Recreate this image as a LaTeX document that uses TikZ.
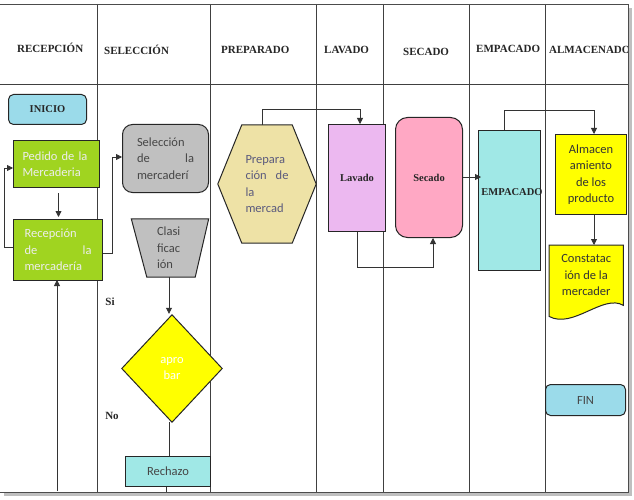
\documentclass[tikz,border=0pt]{standalone}
\usepackage{fontspec}
\setmainfont{Liberation Serif}
\newfontfamily\calfont{Carlito}
\usetikzlibrary{arrows.meta}
\pgfdeclarelayer{back}
\pgfdeclarelayer{bg}
\pgfsetlayers{back,bg,main}
\definecolor{cblue}{RGB}{155,219,234}
\definecolor{cgreen}{RGB}{160,212,32}
\definecolor{cgray}{RGB}{192,192,192}
\definecolor{cyel}{RGB}{255,255,0}
\definecolor{ccyan}{RGB}{160,232,230}
\definecolor{cviolet}{RGB}{236,184,240}
\definecolor{cpink}{RGB}{255,168,196}
\definecolor{ckhaki}{RGB}{238,226,166}
\definecolor{tgray}{RGB}{70,70,70}
\definecolor{tblue}{RGB}{90,90,125}
\begin{document}
\begin{tikzpicture}[x=1pt,y=-1pt,
  gridline/.style={draw=black!75, line width=0.7pt},
  hdr/.style={font=\fontsize{11}{13}\selectfont\bfseries, text=black!85, inner sep=0, anchor=west},
  conn/.style={draw=black!80, line width=0.8pt},
  arr/.style={conn, -{Triangle[length=6pt,width=6pt]}},
  box/.style={draw=black!85, line width=1pt, inner sep=0, anchor=north west},
  shp/.style={draw=black!85, line width=1pt},
  ntext/.style={font=\calfont\fontsize{12.5}{16.5}\selectfont, inner sep=0, align=left},
  btext/.style={font=\fontsize{10.5}{12}\selectfont\bfseries, text=black!85},
]
\useasboundingbox (0,0) rectangle (634,500);
\begin{pgfonlayer}{back}
\fill[white] (0,0) rectangle (634,500);
% shadow
\fill[black!25] (4,492) rectangle (632,496);
\fill[black!25] (628,8) rectangle (632,496);
\fill[black!15] (0,4) rectangle (628,5.5);
% grid
\foreach \gx in {97,210,316,383,469,545} \draw[gridline] (\gx,4) -- (\gx,492);
\draw[gridline] (0,84) -- (628,84);
\draw[draw=black!70, line width=0.8pt] (0,4) -- (628,4) -- (628,492) -- (0,492);
\end{pgfonlayer}
% headers
\node[hdr] (h1) at (17,48) {RECEPCIÓN};
\node[hdr] (h2) at (104,50) {SELECCIÓN};
\node[hdr] (h3) at (221,50) {PREPARADO};
\node[hdr] (h4) at (324,50) {LAVADO};
\node[hdr] (h5) at (403,52) {SECADO};
\node[hdr] (h6) at (476,49) {EMPACADO};
\begin{scope}
\clip (546,10) rectangle (627,80);
\node[hdr] (h7) at (549,50) {ALMACENADO};
\end{scope}
% nodes
\node[box, fill=cblue, rounded corners=5pt, minimum width=78pt, minimum height=30pt, btext] (inicio) at (8,94) {INICIO};
\node[box, fill=cgreen, minimum width=86pt, minimum height=47pt, ntext, text=white!93!black, text width=68pt] (pedido) at (13,140) {Pedido de la\\Mercaderia};
\node[box, fill=cgreen, minimum width=89pt, minimum height=61pt, ntext, text=white!93!black, text width=67pt] (recep) at (13,219) {Recepción\\de\hfill la\\mercadería};
\node[box, fill=cgray, rounded corners=10pt, minimum width=86pt, minimum height=68pt, ntext, text=tgray, text width=57pt] (sel) at (122,124) {Selección\\de\hfill la\\mercaderí};
\node[ntext, text=tgray, text width=26pt, minimum width=77pt, minimum height=58pt] (clas) at (170,248) {Clasi\\ficac\\ión};
\node[ntext, align=center, text=white, minimum width=100pt, minimum height=107pt] (dia) at (172,368.5) {apro\\bar};
\node[btext, font=\fontsize{11}{13}\selectfont\bfseries] (si) at (110,302) {Si};
\node[btext, font=\fontsize{11}{13}\selectfont\bfseries] (no) at (112,416) {No};
\node[box, fill=ccyan, minimum width=85pt, minimum height=30pt, ntext, text=tgray] (rech) at (125,456) {Rechazo};
\node[ntext, text=tblue, text width=43pt, minimum width=98pt, minimum height=118pt] (prep) at (267,184) {Prepara\\ción\hfill de\\la\\mercad};
\node[box, fill=cviolet, minimum width=57pt, minimum height=107pt, btext] (lav) at (328,124) {Lavado};
\node[box, fill=cpink, rounded corners=12pt, minimum width=67pt, minimum height=120pt, btext] (sec) at (395,117) {Secado};
\node[box, fill=ccyan, minimum width=62pt, minimum height=140pt] (emp) at (478,130) {};
\node[btext, inner sep=0] (emptext) at (512,192) {EMPACADO};
\node[box, fill=cyel, minimum width=71pt, minimum height=80pt, ntext, align=center, text=black!80] (alm) at (555,134) {Almacen\\amiento\\de los\\producto};
\node[ntext, align=center, text=black!80, minimum width=74pt, minimum height=60pt, anchor=north west] (cons) at (549,245) {Constatac\\ión de la\\mercader};
\node[box, fill=cblue, rounded corners=5pt, minimum width=80pt, minimum height=31pt, ntext, text=tgray] (fin) at (545,384) {FIN};
% drawn shapes
\begin{pgfonlayer}{bg}
\draw[shp, fill=cgray] (clas.north west) -- (clas.north east) -- ([xshift=-13.5pt]clas.south east) -- ([xshift=15.5pt]clas.south west) -- cycle;
\draw[shp, fill=cyel] (dia.north) -- (dia.east) -- (dia.south) -- (dia.west) -- cycle;
\draw[shp, fill=ckhaki] ([xshift=24pt]prep.north west) -- ([xshift=-24pt]prep.north east) -- (prep.east) -- ([xshift=-24pt]prep.south east) -- ([xshift=24pt]prep.south west) -- (prep.west) -- cycle;
\draw[shp, fill=cyel] (cons.north west) -- (cons.north east) -- (cons.south east) .. controls ([xshift=-20pt,yshift=12pt]cons.south east) and ([xshift=24pt,yshift=-24pt]cons.south west) .. ([yshift=-11pt]cons.south west) -- cycle;
\end{pgfonlayer}
% connectors
\coordinate (bot) at (57,491);
\coordinate (botr) at (166,492);
\draw[arr, shorten <=5pt, shorten >=2pt] ([xshift=2pt]pedido.south) -- ([xshift=2pt]pedido.south |- recep.north);
\draw[arr] (recep.west |- 0,247) -- (4,247) |- (pedido.west |- 0,168);
\draw[arr] (recep.east |- 0,253) -- (112,253) |- (sel.west |- 0,157);
\draw[arr, shorten >=-1pt] (bot) -- (bot |- recep.south);
\draw[arr, shorten >=1pt] ([xshift=-1pt]clas.south) -- ([xshift=-1pt]clas.south |- dia.north);
\draw[conn] ([xshift=-3pt]dia.south) -- ([xshift=-3pt]dia.south |- rech.north);
\draw[conn] (rech.south -| botr) -- (botr);
\draw[arr] (prep.north -| 262,0) -- (262,109) -| ([xshift=3pt]lav.north);
\draw[arr] (lav.south) -- (lav.south |- 0,267) -| ([xshift=4pt]sec.south);
\draw[arr] (sec.east |- 0,177) -- (481,177);
\draw[arr] (emp.north -| 504,0) -- (504,110) -| ([xshift=3pt]alm.north);
\draw[arr] ([xshift=3pt]alm.south) -- ([xshift=3pt]alm.south |- cons.north);
\end{tikzpicture}
\end{document}
